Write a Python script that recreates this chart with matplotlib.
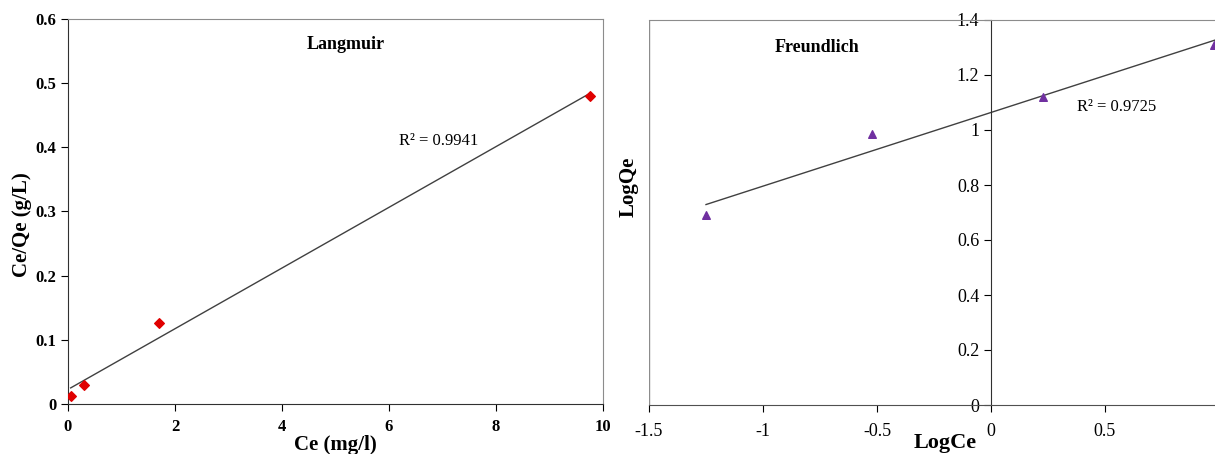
import numpy as np
import matplotlib
matplotlib.use('Agg')
import matplotlib.pyplot as plt
from matplotlib.ticker import FuncFormatter

plt.rcParams['font.family'] = ['Liberation Serif', 'DejaVu Serif']

# ── data ─────────────────────────────────────────────
ce = [0.05, 0.3, 1.7, 9.75]
ce_qe = [0.012, 0.03, 0.127, 0.48]

log_ce = [-1.25, -0.52, 0.23, 0.98]
log_qe = [0.69, 0.985, 1.12, 1.31]

r2_lang = 0.9941
r2_freu = 0.9725

fmt = FuncFormatter(lambda v, p: f'{v:g}')
GRAY = '#8c8c8c'
LINE = '#404040'

fig = plt.figure(figsize=(12.15, 4.54), dpi=100)

# ── Langmuir ─────────────────────────────────────────
ax = fig.add_axes([68/1215, 50/454, 535/1215, 385/454])
ax.scatter(ce, ce_qe, marker='D', s=24, color='#e00000', zorder=5)
sl, ic = np.polyfit(ce, ce_qe, 1)
xf = np.array([min(ce), max(ce)])
ax.plot(xf, sl*xf + ic, color=LINE, lw=1)
ax.set_xlim(0, 10)
ax.set_ylim(0, 0.6)
ax.set_xticks(np.arange(0, 11, 2))
ax.set_yticks(np.arange(0, 0.61, 0.1))
ax.xaxis.set_major_formatter(fmt)
ax.yaxis.set_major_formatter(fmt)
for s in ['top', 'right']:
    ax.spines[s].set_color(GRAY)
for s in ['left', 'bottom']:
    ax.spines[s].set_color('#303030')
ax.tick_params(direction='out', length=5, labelsize=12)
ax.tick_params(axis='x', pad=6)
for t in ax.get_xticklabels() + ax.get_yticklabels():
    t.set_fontweight('bold')
fig.text(335/1215, 1 - 445/454, 'Ce (mg/l)', ha='center', va='center',
         fontsize=15, fontweight='bold')
fig.text(22/1215, 1 - 225/454, 'Ce/Qe (g/L)', rotation=90, ha='center',
         va='center', fontsize=15, fontweight='bold')
ax.text(0.52, 0.935, 'Langmuir', transform=ax.transAxes, ha='center',
        va='center', fontsize=13, fontweight='bold')
ax.text(6.92, 0.41, f'R² = {r2_lang}', ha='center', va='center', fontsize=12)

# ── Freundlich ───────────────────────────────────────
ax = fig.add_axes([649/1215, 49/454, 684/1215, 385/454])
ax.scatter(log_ce, log_qe, marker='^', s=30, color='#7030a0', zorder=5,
           clip_on=False)
sl, ic = np.polyfit(log_ce, log_qe, 1)
xf = np.array([min(log_ce), 1.02])
ax.plot(xf, sl*xf + ic, color=LINE, lw=1)
ax.set_xlim(-1.5, 1.5)
ax.set_ylim(0, 1.4)
ax.set_xticks(np.arange(-1.5, 1.51, 0.5))
ax.set_yticks(np.arange(0, 1.41, 0.2))
ax.xaxis.set_major_formatter(fmt)
ax.yaxis.set_major_formatter(fmt)
ax.spines['left'].set_position(('data', 0))
ax.spines['left'].set_color('#303030')
ax.spines['bottom'].set_color('#505050')
ax.spines['top'].set_color(GRAY)
ax.spines['right'].set_visible(False)
ax.axvline(-1.5, color=GRAY, lw=1)
ax.tick_params(direction='out', length=5, labelsize=13)
ax.tick_params(axis='x', pad=8)
fig.text(629/1215, 1 - 187/454, 'LogQe', rotation=90, ha='center',
         va='center', fontsize=15, fontweight='bold')
fig.text(945/1215, 1 - 443/454, 'LogCe', ha='center', va='center',
         fontsize=16, fontweight='bold')
ax.text(-0.765, 1.3, 'Freundlich', ha='center', va='center', fontsize=13,
        fontweight='bold')
ax.text(0.55, 1.085, f'R² = {r2_freu}', ha='center', va='center', fontsize=12)

fig.savefig('out.png', dpi=100)
